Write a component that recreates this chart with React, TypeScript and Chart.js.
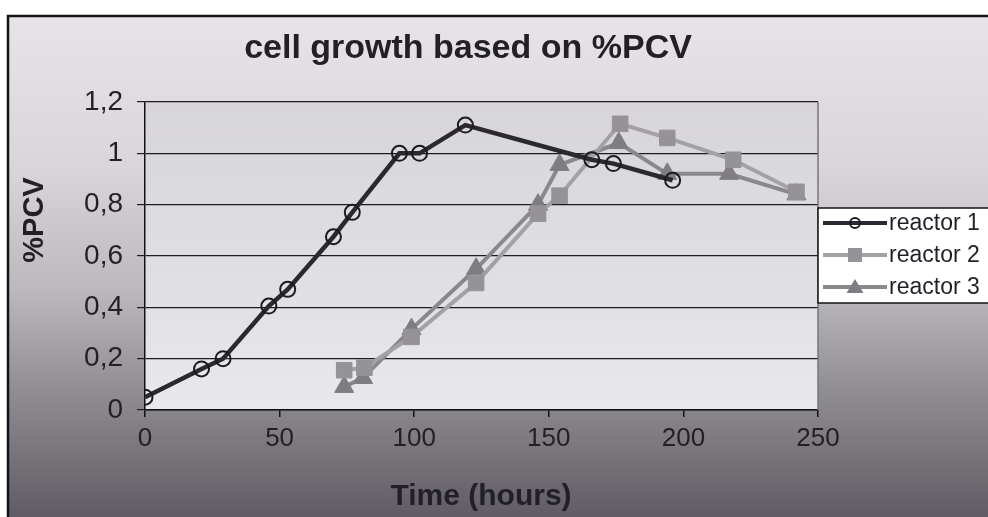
import React, { useEffect, useRef } from "react";
import { Chart, registerables } from "chart.js";

Chart.register(...registerables);

const chartTitle = "cell growth based on %PCV";
const xTitle = "Time (hours)";
const yTitle = "%PCV";

const seriesLabels = ["reactor 1", "reactor 2", "reactor 3"];

const reactor1Time = [0, 21, 29, 46, 53, 70, 77, 94.5, 102, 119, 166, 174, 196];
const reactor1Pcv = [0.05, 0.16, 0.2, 0.405, 0.47, 0.675, 0.77, 1.0, 1.0, 1.11, 0.975, 0.96, 0.895];

const reactor2Time = [74, 81.5, 99, 123, 146, 154, 176.5, 194, 218.5, 242];
const reactor2Pcv = [0.155, 0.165, 0.285, 0.495, 0.765, 0.835, 1.115, 1.06, 0.975, 0.85];

const reactor3Time = [74, 81, 99, 123, 146, 154, 176, 194, 217, 242];
const reactor3Pcv = [0.09, 0.125, 0.315, 0.55, 0.8, 0.955, 1.04, 0.92, 0.92, 0.84];

const xTicks = [0, 50, 100, 150, 200, 250];
const xTickLabels = ["0", "50", "100", "150", "200", "250"];
const yTicks = [0, 0.2, 0.4, 0.6, 0.8, 1, 1.2];
const yTickLabels = ["0", "0,2", "0,4", "0,6", "0,8", "1", "1,2"];

const FONT = 'Arial, "Liberation Sans", sans-serif';
const TEXT = "#221f26";

const toPoints = (xs: number[], ys: number[]) => xs.map((x, i) => ({ x, y: ys[i] }));

const styles = [
  { line: "#2b2830", point: "#1c1a20", fill: "rgba(0,0,0,0)", shape: "circle", r: 7.5, bw: 2, lw: 4.5 },
  { line: "#a3a1a5", point: "#959397", fill: "#959397", shape: "rect", r: 11, bw: 1, lw: 4 },
  { line: "#8a888d", point: "#7f7d82", fill: "#7f7d82", shape: "triangle", r: 11, bw: 1, lw: 4 },
];

const FRAME_LEFT = 8;
const FRAME_TOP = 16;

const decorPlugin = {
  id: "decor",
  beforeDraw(chart: any) {
    const { ctx, width, height, chartArea: a } = chart;
    ctx.save();
    ctx.fillStyle = "#ffffff";
    ctx.fillRect(0, 0, width, height);
    const g = ctx.createLinearGradient(0, FRAME_TOP, 0, height);
    g.addColorStop(0, "#e6e4e6");
    g.addColorStop(0.3, "#d8d6d9");
    g.addColorStop(0.55, "#bab8bc");
    g.addColorStop(0.75, "#8f8d92");
    g.addColorStop(1, "#5f5d63");
    ctx.fillStyle = g;
    ctx.fillRect(FRAME_LEFT, FRAME_TOP, width - FRAME_LEFT, height - FRAME_TOP);
    ctx.strokeStyle = "#141216";
    ctx.lineWidth = 2.5;
    ctx.beginPath();
    ctx.moveTo(FRAME_LEFT, height);
    ctx.lineTo(FRAME_LEFT, FRAME_TOP);
    ctx.lineTo(width, FRAME_TOP);
    ctx.stroke();
    const pg = ctx.createLinearGradient(0, a.top, 0, a.bottom);
    pg.addColorStop(0, "#d7d5d9");
    pg.addColorStop(0.6, "#e0dfe2");
    pg.addColorStop(1, "#e9e8eb");
    ctx.fillStyle = pg;
    ctx.fillRect(a.left, a.top, a.right - a.left, a.bottom - a.top);
    ctx.restore();
  },
  afterDraw(chart: any) {
    const { ctx, chartArea: a } = chart;
    ctx.save();
    ctx.strokeStyle = "#77757a";
    ctx.lineWidth = 1.5;
    ctx.beginPath();
    ctx.moveTo(a.right, a.top);
    ctx.lineTo(a.right, a.bottom);
    ctx.stroke();

    ctx.fillStyle = TEXT;
    ctx.font = `bold 34px ${FONT}`;
    ctx.textAlign = "center";
    ctx.textBaseline = "alphabetic";
    ctx.fillText(chartTitle, 468, 58);
    ctx.font = `bold 30px ${FONT}`;
    ctx.fillText(xTitle, 481, 505);
    ctx.save();
    ctx.translate(43, 220);
    ctx.rotate(-Math.PI / 2);
    ctx.font = `bold 29px ${FONT}`;
    ctx.fillText(yTitle, 0, 0);
    ctx.restore();

    const lx = 818, ly = 208, lw = 175, lh = 95;
    ctx.fillStyle = "#ffffff";
    ctx.fillRect(lx, ly, lw, lh);
    ctx.strokeStyle = "#141216";
    ctx.lineWidth = 1.5;
    ctx.strokeRect(lx, ly, lw, lh);
    const rows = [223, 255, 287];
    chart.data.datasets.forEach((ds: any, i: number) => {
      const y = rows[i];
      const st = styles[i];
      ctx.strokeStyle = st.line;
      ctx.lineWidth = 4;
      ctx.beginPath();
      ctx.moveTo(823, y);
      ctx.lineTo(887, y);
      ctx.stroke();
      const mx = 855;
      if (st.shape === "circle") {
        ctx.strokeStyle = st.point;
        ctx.lineWidth = 2;
        ctx.beginPath();
        ctx.arc(mx, y, 5, 0, Math.PI * 2);
        ctx.stroke();
      } else if (st.shape === "rect") {
        ctx.fillStyle = st.fill;
        ctx.fillRect(mx - 7, y - 7, 14, 14);
      } else {
        ctx.fillStyle = st.fill;
        ctx.beginPath();
        ctx.moveTo(mx, y - 8);
        ctx.lineTo(mx + 8.5, y + 6);
        ctx.lineTo(mx - 8.5, y + 6);
        ctx.closePath();
        ctx.fill();
      }
      ctx.fillStyle = TEXT;
      ctx.font = `23px ${FONT}`;
      ctx.textAlign = "left";
      ctx.textBaseline = "middle";
      ctx.fillText(ds.label, 889, y + 1);
    });
    ctx.restore();
  },
};

export default function App() {
  const ref = useRef<HTMLCanvasElement | null>(null);
  useEffect(() => {
    if (!ref.current) return;
    const seriesData = [
      toPoints(reactor1Time, reactor1Pcv),
      toPoints(reactor2Time, reactor2Pcv),
      toPoints(reactor3Time, reactor3Pcv),
    ];
    const chart = new Chart(ref.current, {
      type: "scatter",
      data: {
        datasets: seriesData.map((d, i) => ({
          label: seriesLabels[i],
          data: d,
          showLine: true,
          borderColor: styles[i].line,
          borderWidth: styles[i].lw,
          pointStyle: styles[i].shape as any,
          pointRadius: styles[i].r,
          pointBorderColor: styles[i].point,
          pointBackgroundColor: styles[i].fill,
          pointBorderWidth: styles[i].bw,
          tension: 0,
        })),
      },
      options: {
        animation: false,
        responsive: false,
        maintainAspectRatio: false,
        layout: { padding: { left: 0, right: 170, top: 102, bottom: 0 } },
        plugins: { legend: { display: false }, title: { display: false }, tooltip: { enabled: false } },
        scales: {
          x: {
            type: "linear",
            min: 0,
            max: 250,
            afterBuildTicks: (s: any) => {
              s.ticks = xTicks.map((v) => ({ value: v }));
            },
            afterFit: (s: any) => {
              s.height = 107;
            },
            ticks: {
              callback: (_v: any, i: number) => xTickLabels[i],
              font: { family: FONT, size: 26 },
              color: TEXT,
              padding: 6,
              maxRotation: 0,
              autoSkip: false,
            },
            grid: { drawOnChartArea: false, drawTicks: true, tickLength: 7, color: "#141216", lineWidth: 1.5 },
            border: { display: true, color: "#141216", width: 1.5 },
          },
          y: {
            type: "linear",
            min: 0,
            max: 1.2,
            afterBuildTicks: (s: any) => {
              s.ticks = yTicks.map((v) => ({ value: v }));
            },
            afterFit: (s: any) => {
              s.width = 145;
            },
            ticks: {
              callback: (_v: any, i: number) => yTickLabels[i],
              font: { family: FONT, size: 28 },
              color: TEXT,
              padding: 14,
              autoSkip: false,
            },
            grid: { drawOnChartArea: true, drawTicks: true, tickLength: 8, color: "#1e1c22", lineWidth: 1.2 },
            border: { display: true, color: "#141216", width: 1.5 },
          },
        },
      },
      plugins: [decorPlugin],
    });
    return () => chart.destroy();
  }, []);
  return (
    <div style={{ position: "absolute", left: 0, top: 0, width: 988, height: 517 }}>
      <canvas ref={ref} width={988} height={517} style={{ display: "block" }} />
    </div>
  );
}
